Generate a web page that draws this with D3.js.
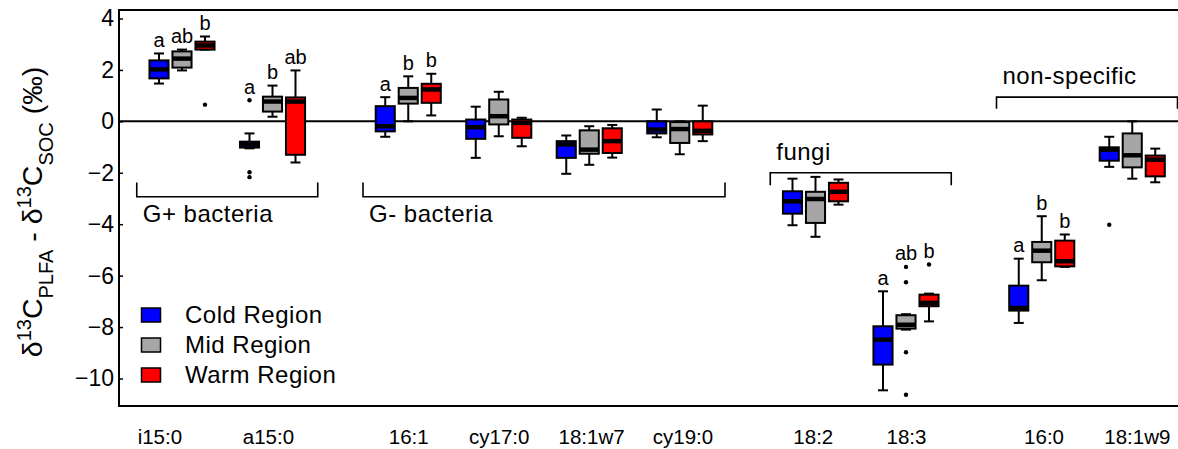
<!DOCTYPE html>
<html>
<head>
<meta charset="utf-8">
<script src="https://cdn.jsdelivr.net/npm/d3@7"></script>
<style>
  html, body { margin: 0; padding: 0; background: #fff; }
  svg { display: block; }
  text { font-family: "Liberation Sans", Arial, sans-serif; fill: #000; }
</style>
</head>
<body>
<svg id="chart" width="1178" height="449"></svg>
<script>
// PLFA categories and their positions (slot units; gaps separate the groups)
const categories = ["i15:0", "a15:0", "16:1", "cy17:0", "18:1w7", "cy19:0", "18:2", "18:3", "16:0", "18:1w9"];
const slots = [0, 1, 2.5, 3.5, 4.5, 5.5, 7, 8, 9.5, 10.5];
// where each category name sits along the axis (slot units)
const labelSlots = [-0.25, 0.95, 2.5, 3.5, 4.52, 5.53, 6.97, 8, 9.52, 10.55];
const regions = ["Cold Region", "Mid Region", "Warm Region"];
const regionColors = ["#0000ff", "#a6a6a6", "#ff0000"];

// Box statistics per category: [lower whisker, Q1, median, Q3, upper whisker]
const coldStats = [
  [1.47, 1.67, 2.02, 2.37, 2.64],
  [-1.05, -1.02, -0.90, -0.79, -0.47],
  [-0.60, -0.39, -0.19, 0.59, 0.94],
  [-1.42, -0.68, -0.23, 0.07, 0.57],
  [-2.04, -1.42, -0.90, -0.77, -0.55],
  [-0.62, -0.47, -0.32, 0.00, 0.46],
  [-4.04, -3.59, -3.11, -2.72, -2.23],
  [-10.46, -9.46, -8.49, -7.97, -6.61],
  [-7.84, -7.36, -7.26, -6.39, -5.34],
  [-1.77, -1.53, -1.10, -1.01, -0.60]
];
const midStats = [
  [1.98, 2.09, 2.44, 2.72, 2.79],
  [0.18, 0.38, 0.77, 0.96, 1.39],
  [0.00, 0.69, 0.91, 1.30, 1.75],
  [-0.58, -0.12, 0.20, 0.85, 1.15],
  [-1.69, -1.26, -1.10, -0.35, -0.19],
  [-1.28, -0.84, -0.30, -0.03, 0.00],
  [-4.49, -3.95, -3.02, -2.74, -2.16],
  [-8.10, -8.06, -7.91, -7.54, -7.50],
  [-6.18, -5.48, -5.03, -4.69, -3.69],
  [-2.23, -1.79, -1.32, -0.47, 0.00]
];
const warmStats = [
  [2.79, 2.79, 2.95, 3.10, 3.30],
  [-1.60, -1.30, 0.77, 0.93, 1.98],
  [0.23, 0.72, 1.24, 1.46, 1.85],
  [-0.97, -0.64, -0.06, 0.07, 0.14],
  [-1.41, -1.23, -0.77, -0.27, -0.14],
  [-0.77, -0.51, -0.37, 0.00, 0.61],
  [-3.24, -3.11, -2.74, -2.39, -2.26],
  [-7.78, -7.19, -7.06, -6.74, -6.70],
  [-5.66, -5.64, -5.44, -4.64, -4.40],
  [-2.37, -2.14, -1.49, -1.33, -1.06]
];

// Outlying points per category
const coldOutliers = [[], [0.82, -1.98, -2.17], [], [], [], [], [], [], [], [-4.02]];
const midOutliers = [[], [], [], [], [], [], [], [-5.66, -6.26, -8.98, -10.63], [], []];
const warmOutliers = [[0.65], [], [], [], [], [], [], [-5.57], [], []];

// Significance letters (Cold, Mid, Warm) per category
const letters = [
  ["a", "ab", "b"], ["a", "b", "ab"], ["a", "b", "b"], null, null, null,
  null, ["a", "ab", "b"], ["a", "b", "b"], null
];

// Functional group brackets: span in slot units, [bracket level, tip level], label
const groupNames = ["G+ bacteria", "G- bacteria", "fungi", "non-specific"];
const groupSpans = [[-0.5, 1.5], [2, 6], [6.5, 8.5], [9, 11]];
const groupLevels = [[-2.93, -2.38], [-2.93, -2.38], [-2.0, -2.49], [0.94, 0.49]];

const yTicks = [-10, -8, -6, -4, -2, 0, 2, 4];

const svg = d3.select("#chart");
const plotLeft = 119, plotTop = 10, plotBottom = 406, plotRight = 1190;

const x = d3.scaleLinear().domain([0, 10.5]).range([182, 1132.25]);
const y = d3.scaleLinear().domain([-11.07, 4.33]).range([plotBottom, plotTop]);
const offset = d3.scaleBand().domain(regions).range([-34.5, 34.5]).paddingInner(0.17).paddingOuter(0.085);
const bw = offset.bandwidth();

const statsByRegion = [coldStats, midStats, warmStats];
const outByRegion = [coldOutliers, midOutliers, warmOutliers];

// zero reference line
svg.append("line")
  .attr("x1", plotLeft).attr("x2", plotRight)
  .attr("y1", y(0)).attr("y2", y(0))
  .attr("stroke", "#000").attr("stroke-width", 2);

// boxes
const boxes = [];
categories.forEach((c, i) => {
  regions.forEach((r, j) => {
    boxes.push({cat: i, region: j, s: statsByRegion[j][i], out: outByRegion[j][i],
      cx: x(slots[i]) + offset(r) + bw / 2});
  });
});

const g = svg.append("g");
const bg = g.selectAll("g.box").data(boxes).join("g").attr("class", "box");

bg.append("line")
  .attr("x1", d => d.cx).attr("x2", d => d.cx)
  .attr("y1", d => y(d.s[0])).attr("y2", d => y(d.s[4]))
  .attr("stroke", "#000").attr("stroke-width", 2);
bg.selectAll("line.cap").data(d => [d.s[0], d.s[4]].map(v => ({cx: d.cx, v})))
  .join("line").attr("class", "cap")
  .attr("x1", d => d.cx - 5).attr("x2", d => d.cx + 5)
  .attr("y1", d => y(d.v)).attr("y2", d => y(d.v))
  .attr("stroke", "#000").attr("stroke-width", 2);
bg.append("rect")
  .attr("x", d => d.cx - bw / 2).attr("width", bw)
  .attr("y", d => y(d.s[3])).attr("height", d => y(d.s[1]) - y(d.s[3]))
  .attr("fill", d => regionColors[d.region])
  .attr("stroke", "#000").attr("stroke-width", 2);
bg.append("line")
  .attr("x1", d => d.cx - bw / 2).attr("x2", d => d.cx + bw / 2)
  .attr("y1", d => y(d.s[2])).attr("y2", d => y(d.s[2]))
  .attr("stroke", "#000").attr("stroke-width", 4.5);
bg.selectAll("circle").data(d => d.out.map(v => ({cx: d.cx, v})))
  .join("circle")
  .attr("cx", d => d.cx).attr("cy", d => y(d.v)).attr("r", 2.2)
  .attr("fill", "#000");

// significance letters above the highest mark of each box
bg.filter(d => letters[d.cat])
  .append("text")
  .attr("x", d => d.cx)
  .attr("y", d => Math.min(y(d.s[4]), ...d.out.map(v => y(v))) - 6.5)
  .attr("text-anchor", "middle")
  .attr("font-size", 20)
  .text(d => letters[d.cat][d.region]);

// group brackets
groupNames.forEach((name, i) => {
  const [a, b] = groupSpans[i];
  const [lv, tip] = groupLevels[i];
  const x0 = x(a), x1 = x(b), yl = y(lv), yt = y(tip);
  svg.append("path")
    .attr("d", `M${x0},${yt}V${yl}H${x1}V${yt}`)
    .attr("fill", "none").attr("stroke", "#000").attr("stroke-width", 1.6);
  const above = tip < lv;
  svg.append("text")
    .attr("x", x0 + 6)
    .attr("y", above ? yl - 13 : yl + 25)
    .attr("font-size", 24)
    .attr("letter-spacing", 0.5)
    .text(name);
});

// frame
svg.append("rect")
  .attr("x", plotLeft).attr("y", plotTop)
  .attr("width", plotRight - plotLeft).attr("height", plotBottom - plotTop)
  .attr("fill", "none").attr("stroke", "#000").attr("stroke-width", 2);

// y axis
const yAxis = svg.append("g")
  .attr("transform", `translate(${plotLeft},0)`)
  .call(d3.axisLeft(y).tickValues(yTicks).tickSize(-4).tickPadding(5).tickFormat(d3.format("d")));
yAxis.select(".domain").remove();
yAxis.selectAll("line").attr("stroke-width", 1.5);
yAxis.selectAll("text").attr("font-size", 23).style("font-family", "Liberation Sans, Arial, sans-serif").attr("fill", "#000");

// category axis
const xCat = d3.scaleOrdinal().domain(categories).range(labelSlots.map(s => x(s)));
const xAxis = svg.append("g")
  .attr("transform", `translate(0,${plotBottom})`)
  .call(d3.axisBottom(xCat).tickSize(0).tickPadding(23));
xAxis.select(".domain").remove();
xAxis.selectAll("text").attr("font-size", 20.5).style("font-family", "Liberation Sans, Arial, sans-serif").attr("fill", "#000");

// y axis title
const title = svg.append("text")
  .attr("transform", "translate(42,212) rotate(-90)")
  .attr("text-anchor", "middle")
  .attr("font-size", 28.5);
title.append("tspan").text("δ");
title.append("tspan").attr("baseline-shift", "super").attr("font-size", 20).text("13");
title.append("tspan").text("C");
title.append("tspan").attr("baseline-shift", "sub").attr("font-size", 20).text("PLFA");
title.append("tspan").text(" - δ");
title.append("tspan").attr("baseline-shift", "super").attr("font-size", 20).text("13");
title.append("tspan").text("C");
title.append("tspan").attr("baseline-shift", "sub").attr("font-size", 20).text("SOC");
title.append("tspan").text(" (‰)");

// legend
const legend = svg.append("g");
regions.forEach((r, i) => {
  const cy = 315 + i * 30;
  legend.append("rect")
    .attr("x", 141.5).attr("y", cy - 7).attr("width", 19).attr("height", 14)
    .attr("fill", regionColors[i]).attr("stroke", "#000").attr("stroke-width", 1.5);
  legend.append("text")
    .attr("x", 185).attr("y", cy + 8)
    .attr("font-size", 24)
    .attr("letter-spacing", 0.5)
    .text(r);
});
</script>
</body>
</html>
